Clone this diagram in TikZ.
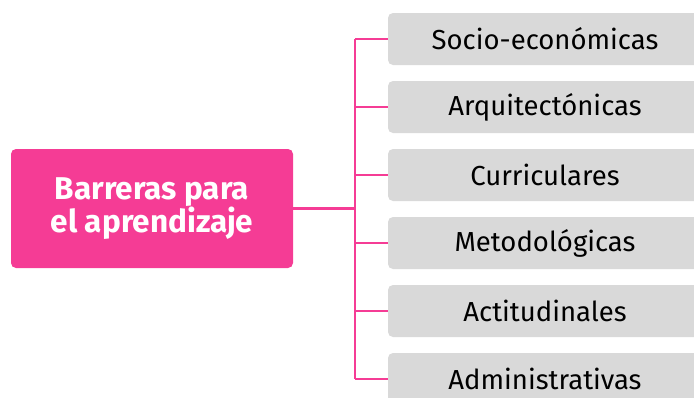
\documentclass[tikz,border=0pt]{standalone}
\usepackage{fontspec}
\setmainfont{Fira Sans}
\definecolor{pinkc}{HTML}{F53C95}
\definecolor{grayc}{HTML}{D9D9D9}
\begin{document}
\begin{tikzpicture}[x=1pt,y=-1pt,
  mainbox/.style={fill=pinkc, rounded corners=5pt, minimum width=282pt, minimum height=119pt, inner sep=0pt, text=white, font=\fontsize{31.5}{31}\selectfont\bfseries, align=center},
  itembox/.style={fill=grayc, rounded corners=5pt, minimum width=314pt, minimum height=52pt, inner sep=0pt, text=black, font=\fontsize{27.5}{31}\selectfont},
  link/.style={draw=pinkc, line width=2.6pt}]
\useasboundingbox (0,0) rectangle (694,397);
\clip (0,0) rectangle (694,397);
\node[mainbox] (main) at (152,208.5) {Barreras para\\el aprendizaje};
\node[itembox] (b1) at (545,39) {Socio-económicas};
\node[itembox] (b2) at (545,107) {Arquitectónicas};
\node[itembox] (b3) at (545,175) {Curriculares};
\node[itembox] (b4) at (545,243) {Metodológicas};
\node[itembox] (b5) at (545,311) {Actitudinales};
\node[itembox] (b6) at (545,379) {Administrativas};
\coordinate (bus) at (355,208.5);
\draw[link] (main.east) -- (bus);
\draw[link] (bus |- b1.west) -- (bus |- b6.west);
\foreach \n in {b1,b2,b3,b4,b5,b6} \draw[link] (bus |- \n.west) -- (\n.west);
\end{tikzpicture}
\end{document}
